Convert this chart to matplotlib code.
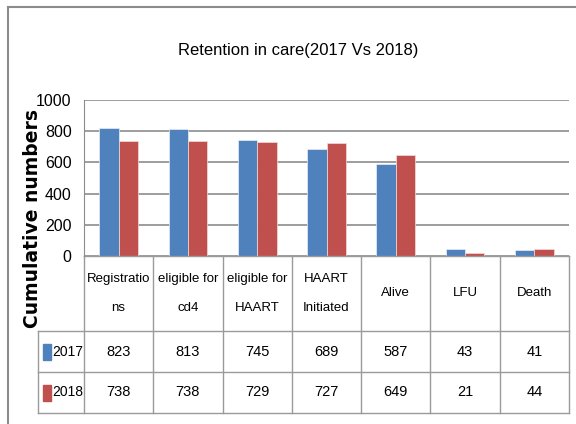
import matplotlib.pyplot as plt
import matplotlib.transforms as mtransforms
from matplotlib.patches import Rectangle
from matplotlib.lines import Line2D
import numpy as np

categories = ['Registratio\nns', 'eligible for\ncd4', 'eligible for\nHAART',
              'HAART\nInitiated', 'Alive', 'LFU', 'Death']
series_names = ['2017', '2018']
vals_2017 = [823, 813, 745, 689, 587, 43, 41]
vals_2018 = [738, 738, 729, 727, 649, 21, 44]
colors = ['#4F81BD', '#C0504D']

plt.rcParams['font.family'] = ['Liberation Sans', 'DejaVu Sans']

W, H = 576, 424
fig = plt.figure(figsize=(W / 100, H / 100), dpi=100)

# outer chart frame
fig.add_artist(Line2D([8 / W, 8 / W], [0, 1 - 7 / H], color='#8c8c8c', lw=1.5))
fig.add_artist(Line2D([8 / W, 1], [1 - 7 / H, 1 - 7 / H], color='#8c8c8c', lw=1.5))

ax = fig.add_axes([84 / W, (H - 256) / H, (569 - 84) / W, 156 / H])

x = np.arange(len(categories))
bw = 0.28
ax.bar(x - bw / 2, vals_2017, bw, color=colors[0], edgecolor='#e8eef6', lw=0.5)
ax.bar(x + bw / 2, vals_2018, bw, color=colors[1], edgecolor='#f3dcdc', lw=0.5)

ax.set_xlim(-0.5, len(categories) - 0.5)
ax.set_ylim(0, 1000)
ax.set_yticks(range(0, 1001, 200))
ax.yaxis.grid(True, color='#8c8c8c', lw=1.2)
ax.set_axisbelow(True)
ax.set_xticks([])
for s in ['top', 'right', 'bottom']:
    ax.spines[s].set_visible(False)
ax.spines['left'].set_color('#8c8c8c')
ax.tick_params(axis='y', length=0, labelsize=11.5, pad=9)

fig.text(298 / W, 1 - 50 / H, 'Retention in care(2017 Vs 2018)', ha='center',
         va='center', fontsize=12)
fig.text(33 / W, 1 - 218 / H, 'Cumulative numbers', rotation=90, ha='center',
         va='center', fontsize=13.5, fontweight='bold', family='DejaVu Sans')

# data table below the axis (x in data units, y in axes fraction)
tr = mtransforms.blended_transform_factory(ax.transData, ax.transAxes)
px = 69.3   # pixels per category
py = 156.0  # pixels per axes height
y_head_bot = -75 / py
y_r1_bot = -116 / py
y_r2_bot = -157 / py
x_left = -0.5 - 46 / px
n = len(categories)
lc = '#9a9a9a'
kw = dict(transform=tr, color=lc, lw=1.0, clip_on=False)

ax.add_line(Line2D([-0.5, n - 0.5], [0, 0], **kw))
for yy in [y_head_bot, y_r1_bot, y_r2_bot]:
    ax.add_line(Line2D([x_left, n - 0.5], [yy, yy], **kw))
for i in range(n + 1):
    ax.add_line(Line2D([i - 0.5, i - 0.5], [0, y_r2_bot], **kw))
ax.add_line(Line2D([x_left, x_left], [y_head_bot, y_r2_bot], **kw))

for i, c in enumerate(categories):
    ax.text(i, y_head_bot / 2, c, transform=tr, ha='center', va='center',
            fontsize=9.5, linespacing=2.9)

rows = [(y_head_bot, y_r1_bot, vals_2017), (y_r1_bot, y_r2_bot, vals_2018)]
for k, (top, bot, vals) in enumerate(rows):
    ym = (top + bot) / 2
    for i, v in enumerate(vals):
        ax.text(i, ym, str(v), transform=tr, ha='center', va='center', fontsize=10.5)
    ax.add_patch(Rectangle((-0.5 - 41 / px, ym - 8 / py), 8 / px, 16 / py,
                           transform=tr, color=colors[k], clip_on=False))
    ax.text(-0.5 - 32 / px, ym, series_names[k], transform=tr, ha='left',
            va='center', fontsize=10)

fig.savefig('out.png', dpi=100)
